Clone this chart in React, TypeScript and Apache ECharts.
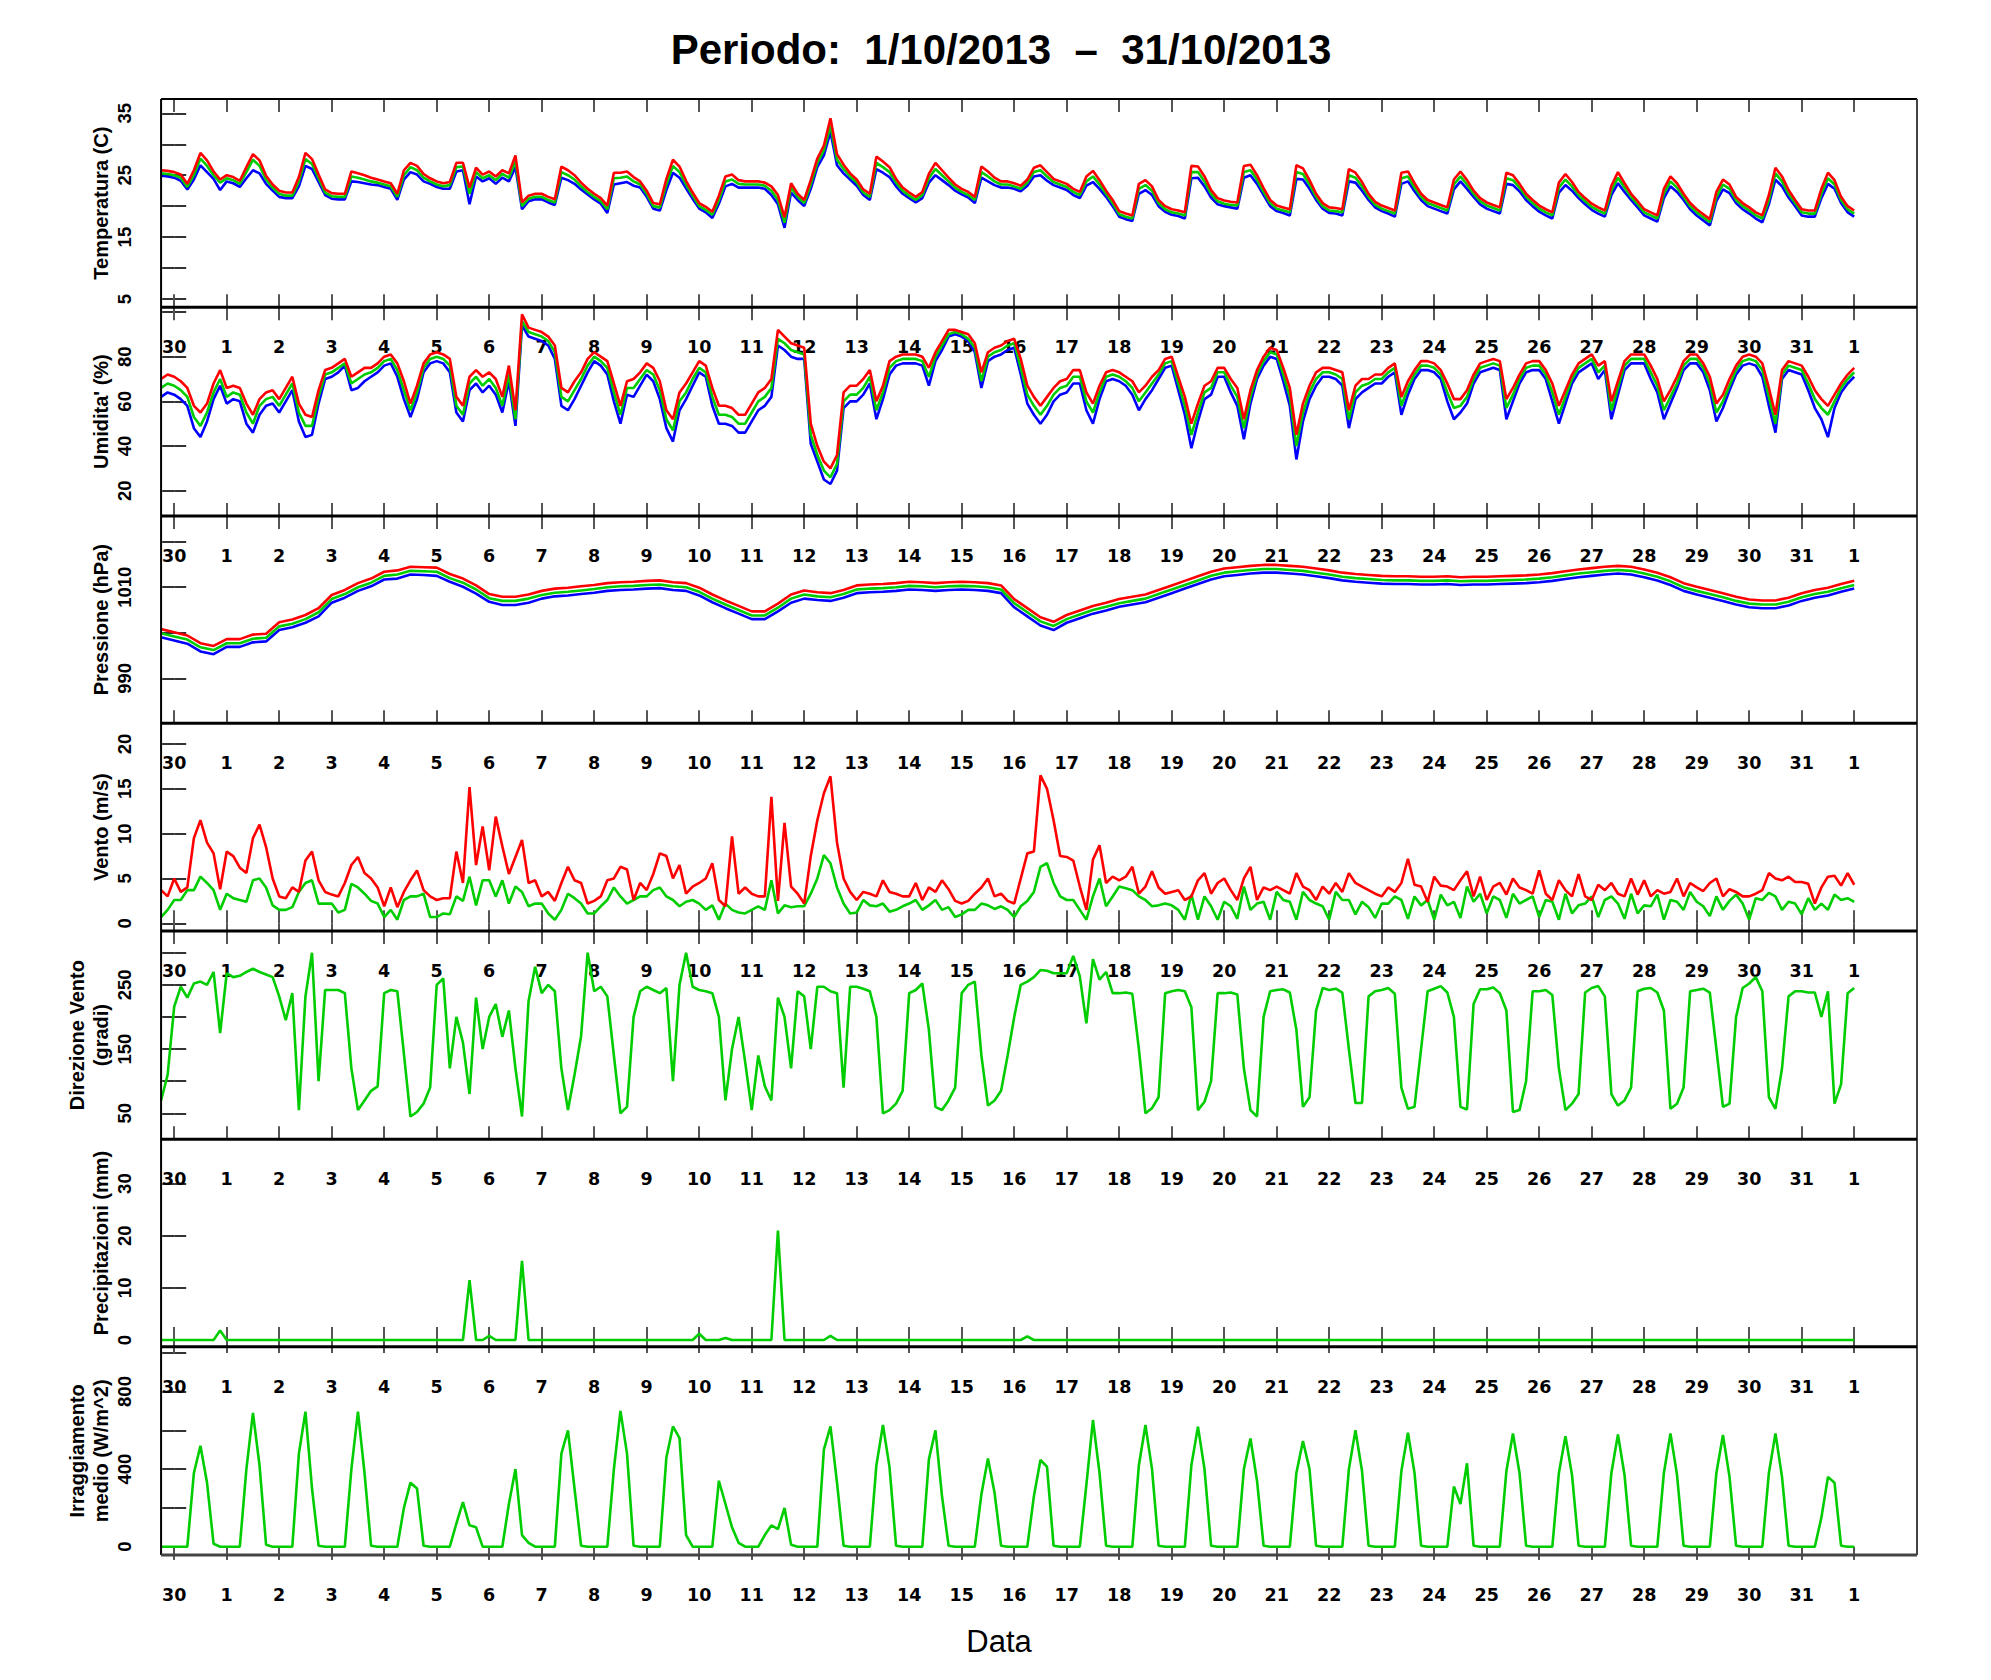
import React, { useEffect, useRef } from 'react';
import * as echarts from 'echarts';

// ---------- time axis (hours from 30/09 00:00), tick labels ----------
const hours3 = Array.from({ length: 259 }, (_, i) => -6 + 3 * i);
const hours6 = Array.from({ length: 130 }, (_, i) => -6 + 6 * i);
const tickHours = Array.from({ length: 33 }, (_, i) => 24 * i);
const dayLabels = ['30', '1', '2', '3', '4', '5', '6', '7', '8', '9', '10', '11', '12', '13', '14', '15', '16',
  '17', '18', '19', '20', '21', '22', '23', '24', '25', '26', '27', '28', '29', '30', '31', '1'];

const tempLabels = [5, 15, 25, 35];
const humLabels = [20, 40, 60, 80];
const presLabels = [990, 1010];
const windLabels = [0, 5, 10, 15, 20];
const dirLabels = [50, 150, 250];
const rainLabels = [0, 10, 20, 30];
const irrLabels = [0, 400, 800];

// ---------- temperature (C), 3-hourly ----------
const tempBlue = [
  24.9, 24.8,
  24.6, 24.1, 22.7, 24.3, 26.6, 25.5, 24.4, 22.6,
  24.0, 23.7, 23.1, 24.5, 25.8, 25.3, 23.6, 22.5,
  21.5, 21.3, 21.3, 23.2, 26.5, 26.0, 23.9, 21.8,
  21.2, 21.1, 21.1, 24.0, 23.9, 23.7, 23.5, 23.4,
  23.1, 22.8, 21.0, 24.3, 25.5, 25.1, 24.0, 23.6,
  23.1, 22.8, 22.8, 25.6, 25.8, 20.3, 24.8, 24.0,
  24.5, 23.6, 24.6, 24.0, 26.3, 19.5, 20.8, 21.1,
  21.1, 20.6, 20.2, 24.6, 24.2, 23.6, 22.7, 21.9,
  21.1, 20.4, 18.9, 23.5, 23.7, 23.9, 23.3, 23.0,
  21.5, 19.6, 19.3, 22.6, 25.4, 24.6, 22.9, 21.2,
  19.6, 19.0, 18.1, 20.4, 23.2, 23.6, 23.0, 23.0,
  23.0, 23.0, 22.8, 21.8, 20.3, 16.5, 22.2, 21.0,
  20.0, 22.8, 26.3, 28.2, 32.0, 26.6, 25.3, 24.3,
  23.3, 21.8, 21.0, 26.0, 25.4, 24.7, 23.2, 22.0,
  21.3, 20.6, 21.3, 23.8, 25.0, 24.2, 23.4, 22.5,
  21.9, 21.4, 20.5, 24.6, 24.0, 23.4, 23.0, 23.0,
  22.8, 22.4, 23.3, 24.8, 25.0, 24.1, 23.4, 23.0,
  22.6, 21.8, 21.3, 23.3, 23.9, 22.8, 21.5, 20.0,
  18.3, 17.9, 17.6, 22.0, 22.6, 21.8, 20.0, 19.1,
  18.6, 18.4, 18.0, 24.5, 24.6, 23.2, 21.4, 20.3,
  20.0, 19.8, 19.6, 24.6, 25.0, 23.6, 21.8, 20.0,
  19.2, 18.9, 18.5, 24.4, 24.3, 22.8, 21.0, 19.6,
  18.9, 18.8, 18.5, 24.0, 23.8, 22.5, 21.0, 19.8,
  19.2, 18.8, 18.3, 23.6, 24.0, 22.4, 21.0, 20.0,
  19.6, 19.2, 18.8, 22.7, 24.0, 22.8, 21.5, 20.3,
  19.6, 19.2, 18.8, 23.6, 23.4, 22.4, 21.0, 20.0,
  19.1, 18.5, 18.0, 22.2, 23.4, 22.5, 21.3, 20.3,
  19.4, 18.8, 18.3, 21.8, 23.7, 22.3, 21.0, 19.8,
  18.5, 18.0, 17.5, 21.3, 23.2, 22.3, 21.0, 19.5,
  18.5, 17.7, 16.9, 20.8, 22.7, 22.1, 20.5, 19.5,
  18.8, 18.0, 17.4, 20.3, 24.3, 23.2, 21.4, 20.0,
  18.5, 18.3, 18.3, 21.3, 23.6, 22.8, 20.5, 19.0,
  18.3,
];
const tempGreen = [
  25.3, 25.2,
  25.0, 24.6, 23.1, 25.0, 27.7, 26.5, 25.0, 23.8,
  24.5, 24.2, 23.6, 25.5, 27.5, 26.5, 24.3, 23.0,
  22.0, 21.7, 21.7, 24.0, 27.6, 26.8, 24.5, 22.2,
  21.6, 21.5, 21.5, 24.8, 24.6, 24.3, 24.0, 23.8,
  23.5, 23.2, 21.5, 25.0, 26.3, 25.8, 24.6, 24.0,
  23.5, 23.2, 23.4, 26.3, 26.4, 22.0, 25.5, 24.5,
  25.0, 24.2, 25.2, 24.6, 27.2, 20.0, 21.2, 21.5,
  21.5, 21.0, 20.6, 25.5, 25.0, 24.3, 23.2, 22.3,
  21.5, 20.8, 19.5, 24.5, 24.6, 24.8, 24.0, 23.5,
  22.0, 20.0, 19.8, 23.5, 26.5, 25.5, 23.5, 21.7,
  20.0, 19.4, 18.6, 21.0, 24.0, 24.3, 23.6, 23.5,
  23.5, 23.5, 23.3, 22.5, 21.0, 17.3, 23.0, 21.5,
  20.5, 23.5, 27.0, 29.0, 33.0, 27.5, 26.0, 24.8,
  23.8, 22.2, 21.5, 27.0, 26.3, 25.5, 23.8, 22.5,
  21.7, 21.0, 21.8, 24.5, 26.0, 25.0, 24.0, 23.0,
  22.3, 21.8, 21.0, 25.5, 24.8, 24.0, 23.5, 23.5,
  23.2, 22.8, 23.8, 25.5, 25.8, 24.8, 23.9, 23.5,
  23.1, 22.3, 21.8, 24.0, 24.8, 23.5, 22.0, 20.5,
  18.7, 18.3, 18.0, 22.8, 23.4, 22.5, 20.5, 19.5,
  19.0, 18.8, 18.5, 25.5, 25.5, 24.0, 22.0, 20.8,
  20.4, 20.2, 20.1, 25.5, 25.8, 24.3, 22.3, 20.5,
  19.6, 19.3, 19.0, 25.5, 25.2, 23.5, 21.5, 20.0,
  19.3, 19.2, 19.0, 25.0, 24.6, 23.2, 21.5, 20.2,
  19.6, 19.2, 18.8, 24.5, 24.8, 23.0, 21.5, 20.5,
  20.1, 19.7, 19.3, 23.5, 24.8, 23.5, 22.0, 20.8,
  20.1, 19.7, 19.3, 24.5, 24.2, 23.0, 21.5, 20.5,
  19.6, 19.0, 18.5, 23.0, 24.3, 23.2, 21.8, 20.8,
  19.9, 19.3, 18.8, 22.5, 24.6, 23.0, 21.5, 20.3,
  19.0, 18.5, 18.0, 22.0, 24.0, 23.0, 21.5, 20.0,
  19.0, 18.2, 17.4, 21.5, 23.5, 22.8, 21.0, 20.0,
  19.3, 18.5, 18.0, 21.0, 25.3, 24.0, 22.0, 20.5,
  19.0, 18.8, 18.8, 22.0, 24.5, 23.5, 21.0, 19.5,
  18.8,
];
const tempRed = [
  25.8, 25.7,
  25.5, 25.1, 23.6, 25.8, 28.6, 27.4, 25.6, 24.3,
  25.0, 24.7, 24.1, 26.3, 28.4, 27.4, 24.9, 23.5,
  22.5, 22.2, 22.2, 24.7, 28.6, 27.6, 25.1, 22.7,
  22.1, 22.0, 22.0, 25.6, 25.3, 25.0, 24.6, 24.3,
  24.0, 23.7, 22.0, 25.8, 27.0, 26.5, 25.2, 24.5,
  24.0, 23.7, 23.9, 27.0, 27.0, 23.0, 26.2, 25.1,
  25.6, 24.8, 25.8, 25.3, 28.2, 20.6, 21.7, 22.0,
  22.0, 21.5, 21.1, 26.4, 25.8, 25.0, 23.8, 22.8,
  22.0, 21.3, 20.1, 25.4, 25.4, 25.6, 24.7, 24.0,
  22.5, 20.5, 20.3, 24.4, 27.5, 26.4, 24.1, 22.2,
  20.5, 19.9, 19.1, 21.7, 24.8, 25.1, 24.2, 24.0,
  24.0, 24.0, 23.8, 23.2, 21.8, 18.2, 23.7, 22.0,
  21.0, 24.2, 27.7, 29.8, 34.2, 28.4, 26.7, 25.3,
  24.3, 22.7, 22.0, 28.0, 27.2, 26.3, 24.4, 23.0,
  22.2, 21.5, 22.3, 25.2, 27.0, 25.8, 24.6, 23.5,
  22.8, 22.3, 21.5, 26.4, 25.6, 24.6, 24.0, 24.0,
  23.7, 23.3, 24.3, 26.2, 26.6, 25.5, 24.4, 24.0,
  23.6, 22.8, 22.3, 24.8, 25.7, 24.2, 22.5, 21.0,
  19.2, 18.8, 18.5, 23.6, 24.2, 23.2, 21.0, 20.0,
  19.5, 19.3, 19.0, 26.5, 26.4, 24.8, 22.6, 21.3,
  20.9, 20.7, 20.6, 26.5, 26.7, 25.0, 22.9, 21.0,
  20.1, 19.8, 19.5, 26.6, 26.1, 24.2, 22.0, 20.5,
  19.8, 19.7, 19.5, 26.0, 25.4, 23.9, 22.0, 20.7,
  20.1, 19.7, 19.3, 25.4, 25.6, 23.7, 22.0, 21.0,
  20.6, 20.2, 19.8, 24.3, 25.6, 24.2, 22.5, 21.3,
  20.6, 20.2, 19.8, 25.4, 25.0, 23.6, 22.0, 21.0,
  20.1, 19.5, 19.0, 23.8, 25.2, 23.9, 22.3, 21.3,
  20.4, 19.8, 19.3, 23.3, 25.5, 23.7, 22.0, 20.8,
  19.5, 19.0, 18.5, 22.8, 24.8, 23.7, 22.0, 20.5,
  19.5, 18.7, 17.9, 22.3, 24.3, 23.5, 21.5, 20.5,
  19.8, 19.0, 18.5, 21.8, 26.2, 24.8, 22.6, 21.0,
  19.5, 19.3, 19.3, 22.8, 25.4, 24.2, 21.5, 20.0,
  19.3,
];

// ---------- relative humidity (%), 3-hourly ----------
const humBlue = [
  62, 64,
  63, 61, 58, 48, 44, 51, 61, 67,
  59, 61, 60, 50, 46, 54, 58, 59,
  55, 60, 65, 51, 44, 45, 59, 70,
  71, 73, 76, 65, 66, 69, 71, 73,
  76, 77, 71, 61, 53, 61, 73, 77,
  78, 77, 73, 55, 51, 65, 68, 64,
  67, 63, 55, 69, 49, 94, 89, 88,
  87, 85, 79, 58, 56, 61, 67, 73,
  78, 76, 72, 60, 50, 63, 62, 67,
  72, 69, 61, 48, 42, 56, 61, 67,
  73, 71, 58, 50, 50, 49, 46, 46,
  51, 56, 58, 62, 85, 83, 80, 79,
  79, 41, 33, 25, 23, 29, 57, 60,
  60, 63, 68, 52, 61, 72, 76, 77,
  77, 77, 76, 67, 78, 83, 89, 90,
  89, 87, 82, 66, 78, 80, 81, 83,
  84, 72, 59, 54, 50, 54, 60, 63,
  64, 68, 68, 56, 50, 61, 69, 70,
  69, 67, 63, 56, 61, 65, 70, 75,
  76, 65, 54, 39, 51, 61, 63, 71,
  71, 64, 58, 43, 59, 70, 76, 80,
  79, 69, 58, 34, 51, 61, 67, 71,
  71, 70, 67, 48, 61, 64, 66, 68,
  68, 71, 73, 54, 63, 70, 74, 74,
  73, 70, 60, 52, 55, 59, 68, 73,
  74, 75, 74, 52, 60, 68, 73, 74,
  74, 70, 60, 50, 59, 68, 73, 75,
  77, 70, 74, 52, 63, 74, 77, 77,
  77, 70, 64, 52, 59, 66, 74, 77,
  77, 73, 65, 51, 57, 65, 72, 76,
  77, 76, 71, 58, 46, 70, 74, 73,
  72, 65, 57, 52, 44, 57, 64, 68,
  71,
];
const humGreen = [
  66, 68,
  67, 65, 62, 53, 49, 55, 64, 70,
  62, 64, 63, 55, 50, 58, 61, 62,
  58, 63, 68, 55, 49, 49, 62, 72,
  73, 75, 77, 68, 70, 72, 73, 75,
  78, 79, 74, 65, 56, 64, 75, 79,
  80, 79, 76, 58, 54, 68, 71, 67,
  70, 66, 58, 72, 52, 96, 91, 90,
  89, 87, 82, 62, 60, 65, 70, 76,
  80, 78, 75, 64, 54, 66, 66, 70,
  74, 72, 65, 52, 47, 60, 64, 70,
  75, 73, 62, 54, 54, 53, 50, 50,
  55, 60, 62, 66, 88, 86, 83, 82,
  81, 45, 36, 29, 26, 32, 60, 63,
  63, 66, 71, 56, 64, 75, 78, 79,
  79, 79, 78, 71, 80, 85, 90, 91,
  90, 88, 84, 69, 80, 82, 83, 85,
  86, 75, 63, 58, 54, 58, 63, 66,
  67, 71, 71, 60, 55, 64, 71, 72,
  71, 69, 66, 60, 64, 68, 72, 77,
  78, 68, 58, 45, 55, 64, 66, 73,
  73, 67, 62, 48, 62, 72, 78, 82,
  81, 72, 62, 40, 55, 64, 70, 73,
  73, 72, 70, 52, 64, 67, 68, 70,
  70, 73, 75, 58, 66, 72, 76, 76,
  75, 72, 64, 57, 58, 62, 70, 75,
  76, 77, 76, 57, 63, 70, 75, 76,
  76, 72, 64, 54, 62, 70, 75, 77,
  79, 73, 76, 56, 66, 76, 79, 79,
  79, 73, 67, 56, 62, 68, 76, 79,
  79, 75, 68, 55, 60, 67, 74, 78,
  79, 78, 74, 62, 50, 72, 76, 75,
  74, 68, 61, 57, 54, 60, 66, 70,
  73,
];
const humRed = [
  70, 72,
  71, 69, 66, 58, 55, 59, 68, 74,
  66, 67, 66, 59, 54, 61, 64, 65,
  61, 66, 71, 59, 54, 53, 65, 74,
  75, 77, 79, 71, 73, 75, 75, 77,
  80, 81, 77, 69, 59, 67, 77, 81,
  82, 81, 79, 62, 58, 71, 74, 71,
  73, 70, 62, 76, 56, 99, 93, 92,
  91, 89, 85, 66, 64, 69, 73, 79,
  82, 80, 78, 68, 58, 69, 70, 73,
  77, 75, 69, 56, 52, 64, 68, 73,
  78, 76, 66, 58, 58, 57, 54, 54,
  59, 64, 66, 70, 92, 89, 86, 85,
  84, 50, 40, 33, 30, 36, 64, 67,
  67, 70, 74, 60, 67, 78, 80, 81,
  81, 81, 80, 75, 82, 87, 92, 92,
  91, 90, 86, 73, 82, 84, 85, 87,
  88, 79, 67, 62, 58, 62, 66, 69,
  70, 74, 74, 64, 59, 67, 73, 74,
  73, 71, 69, 64, 67, 71, 74, 79,
  80, 71, 62, 50, 59, 67, 69, 75,
  75, 70, 66, 52, 65, 74, 80, 84,
  83, 75, 66, 45, 59, 67, 73, 75,
  75, 74, 73, 56, 67, 70, 70, 72,
  72, 75, 77, 62, 69, 74, 78, 78,
  77, 74, 68, 61, 61, 65, 72, 77,
  78, 79, 78, 61, 66, 72, 77, 78,
  78, 74, 68, 58, 65, 72, 77, 79,
  81, 76, 78, 60, 69, 78, 81, 81,
  81, 76, 70, 60, 65, 71, 78, 81,
  81, 77, 71, 59, 63, 70, 76, 80,
  81, 80, 77, 66, 54, 74, 78, 77,
  76, 71, 65, 61, 58, 63, 68, 72,
  75,
];

// ---------- pressure (hPa), 6-hourly ----------
const presBlue = [
  999.0,
  998.3, 997.6, 995.9, 995.3,
  996.9, 996.9, 997.9, 998.1,
  1000.6, 1001.2, 1002.2, 1003.6,
  1006.6, 1007.7, 1009.2, 1010.2,
  1011.7, 1011.9, 1012.8, 1012.7,
  1012.5, 1011.2, 1010.1, 1008.6,
  1006.8, 1006.1, 1006.1, 1006.6,
  1007.5, 1008.0, 1008.2, 1008.5,
  1008.8, 1009.2, 1009.4, 1009.5,
  1009.7, 1009.8, 1009.4, 1009.2,
  1008.2, 1006.7, 1005.4, 1004.2,
  1003.0, 1003.0, 1004.7, 1006.6,
  1007.5, 1007.2, 1007.0, 1007.7,
  1008.7, 1008.9, 1009.0, 1009.2,
  1009.5, 1009.4, 1009.2, 1009.4,
  1009.5, 1009.4, 1009.2, 1008.7,
  1005.6, 1003.6, 1001.6, 1000.6,
  1002.2, 1003.2, 1004.2, 1004.9,
  1005.7, 1006.2, 1006.7, 1007.7,
  1008.7, 1009.7, 1010.7, 1011.7,
  1012.4, 1012.7, 1013.0, 1013.2,
  1013.2, 1013.0, 1012.8, 1012.4,
  1012.0, 1011.5, 1011.2, 1011.0,
  1010.8, 1010.7, 1010.7, 1010.6,
  1010.6, 1010.7, 1010.5, 1010.6,
  1010.6, 1010.7, 1010.8, 1010.9,
  1011.1, 1011.4, 1011.8, 1012.2,
  1012.5, 1012.8, 1013.0, 1012.8,
  1012.2, 1011.5, 1010.5, 1009.2,
  1008.4, 1007.7, 1007.0, 1006.2,
  1005.6, 1005.4, 1005.4, 1006.0,
  1007.0, 1007.7, 1008.2, 1009.0,
  1009.7,
];
const presGreen = [
  999.9,
  999.2, 998.5, 996.8, 996.2,
  997.7, 997.7, 998.7, 998.9,
  1001.4, 1002.0, 1003.0, 1004.5,
  1007.4, 1008.5, 1010.0, 1011.0,
  1012.5, 1012.8, 1013.6, 1013.5,
  1013.4, 1012.0, 1011.0, 1009.5,
  1007.6, 1007.0, 1007.0, 1007.5,
  1008.3, 1008.8, 1009.0, 1009.3,
  1009.6, 1010.0, 1010.2, 1010.3,
  1010.5, 1010.6, 1010.2, 1010.0,
  1009.0, 1007.5, 1006.2, 1005.0,
  1003.8, 1003.8, 1005.5, 1007.5,
  1008.4, 1008.0, 1007.8, 1008.5,
  1009.5, 1009.7, 1009.8, 1010.0,
  1010.3, 1010.2, 1010.0, 1010.2,
  1010.3, 1010.2, 1010.0, 1009.5,
  1006.5, 1004.5, 1002.5, 1001.5,
  1003.0, 1004.0, 1005.0, 1005.7,
  1006.5, 1007.0, 1007.5, 1008.5,
  1009.5, 1010.5, 1011.5, 1012.5,
  1013.2, 1013.5, 1013.8, 1014.0,
  1014.0, 1013.8, 1013.6, 1013.2,
  1012.8, 1012.3, 1012.0, 1011.8,
  1011.6, 1011.5, 1011.5, 1011.4,
  1011.4, 1011.5, 1011.3, 1011.4,
  1011.4, 1011.5, 1011.6, 1011.7,
  1011.9, 1012.2, 1012.6, 1013.0,
  1013.3, 1013.6, 1013.8, 1013.6,
  1013.0, 1012.3, 1011.3, 1010.0,
  1009.2, 1008.5, 1007.8, 1007.0,
  1006.4, 1006.2, 1006.2, 1006.8,
  1007.8, 1008.5, 1009.0, 1009.8,
  1010.5,
];
const presRed = [
  1000.8,
  1000.1, 999.4, 997.7, 997.1,
  998.6, 998.6, 999.6, 999.8,
  1002.3, 1002.9, 1003.9, 1005.4,
  1008.3, 1009.4, 1010.9, 1011.9,
  1013.4, 1013.7, 1014.5, 1014.4,
  1014.3, 1012.9, 1011.9, 1010.4,
  1008.5, 1007.9, 1007.9, 1008.4,
  1009.2, 1009.7, 1009.9, 1010.2,
  1010.5, 1010.9, 1011.1, 1011.2,
  1011.4, 1011.5, 1011.1, 1010.9,
  1009.9, 1008.4, 1007.1, 1005.9,
  1004.7, 1004.7, 1006.4, 1008.4,
  1009.3, 1008.9, 1008.7, 1009.4,
  1010.4, 1010.6, 1010.7, 1010.9,
  1011.2, 1011.1, 1010.9, 1011.1,
  1011.2, 1011.1, 1010.9, 1010.4,
  1007.4, 1005.4, 1003.4, 1002.4,
  1003.9, 1004.9, 1005.9, 1006.6,
  1007.4, 1007.9, 1008.4, 1009.4,
  1010.4, 1011.4, 1012.4, 1013.4,
  1014.1, 1014.4, 1014.7, 1014.9,
  1014.9, 1014.7, 1014.5, 1014.1,
  1013.7, 1013.2, 1012.9, 1012.7,
  1012.5, 1012.4, 1012.4, 1012.3,
  1012.3, 1012.4, 1012.2, 1012.3,
  1012.3, 1012.4, 1012.5, 1012.6,
  1012.8, 1013.1, 1013.5, 1013.9,
  1014.2, 1014.5, 1014.7, 1014.5,
  1013.9, 1013.2, 1012.2, 1010.9,
  1010.1, 1009.4, 1008.7, 1007.9,
  1007.3, 1007.1, 1007.1, 1007.7,
  1008.7, 1009.4, 1009.9, 1010.7,
  1011.4,
];

// ---------- wind speed (m/s), 3-hourly ----------
const windMean = [
  0.7, 1.5,
  2.6, 2.6, 3.7, 3.7, 5.2, 4.5, 3.7, 1.5,
  3.3, 2.8, 2.6, 2.4, 4.8, 5.0, 4.0, 2.0,
  1.5, 1.5, 1.8, 3.5, 4.5, 4.8, 2.2, 2.2,
  2.2, 1.2, 1.5, 4.4, 4.0, 3.3, 2.5, 2.2,
  0.7, 1.5, 0.4, 2.6, 3.0, 3.0, 3.3, 0.7,
  0.7, 1.1, 1.0, 3.0, 2.5, 5.2, 2.0, 4.8,
  4.8, 3.0, 4.8, 2.2, 4.1, 3.5, 1.9, 2.2,
  2.2, 1.1, 0.4, 1.5, 3.3, 2.8, 2.2, 1.1,
  1.1, 1.9, 2.6, 4.0, 3.0, 2.2, 2.6, 3.0,
  3.0, 3.7, 4.0, 3.0, 2.6, 1.9, 2.4, 2.6,
  2.2, 1.5, 2.0, 0.4, 2.2, 1.5, 1.2, 1.1,
  1.5, 1.9, 1.5, 4.8, 1.1, 2.0, 1.8, 1.9,
  1.9, 3.3, 5.0, 7.6, 6.7, 4.0, 2.2, 1.1,
  1.2, 2.6, 2.0, 1.9, 2.2, 1.3, 1.5, 1.9,
  2.2, 2.6, 1.5, 2.0, 2.6, 1.5, 1.8, 0.7,
  1.0, 1.5, 1.5, 2.2, 2.0, 1.6, 1.9, 1.5,
  0.7, 1.9, 2.5, 3.5, 6.3, 6.7, 4.5, 3.0,
  2.6, 2.6, 1.5, 0.4, 3.0, 5.0, 1.9, 3.0,
  4.1, 3.9, 3.7, 3.0, 2.6, 1.9, 2.0, 2.2,
  2.0, 1.5, 0.4, 3.2, 0.4, 3.0, 1.9, 0.4,
  2.4, 1.9, 0.5, 4.1, 1.5, 2.2, 2.4, 0.4,
  3.5, 2.6, 2.4, 0.4, 3.5, 2.6, 2.2, 1.9,
  0.4, 3.5, 2.6, 2.6, 1.0, 2.4, 1.8, 0.6,
  2.2, 2.2, 3.0, 2.6, 0.5, 3.0, 2.0, 2.6,
  0.4, 3.2, 2.0, 2.4, 0.6, 4.1, 2.4, 3.3,
  1.1, 3.0, 2.6, 0.6, 3.3, 2.2, 2.6, 3.0,
  0.7, 2.6, 2.4, 0.4, 3.3, 1.1, 2.0, 2.2,
  3.0, 0.7, 2.6, 3.0, 2.2, 0.5, 3.3, 1.1,
  2.0, 1.9, 3.2, 0.4, 2.6, 2.4, 1.5, 3.5,
  2.4, 1.9, 0.8, 3.0, 1.5, 2.5, 3.2, 2.2,
  0.4, 2.8, 2.6, 3.4, 3.0, 1.5, 2.4, 2.2,
  1.0, 2.8, 1.5, 2.2, 1.5, 3.2, 2.6, 2.8,
  2.4,
];
const windGust = [
  3.7, 3.0,
  5.0, 3.5, 4.0, 9.5, 11.5, 9.0, 7.8, 3.8,
  8.0, 7.5, 6.2, 5.6, 9.5, 11.0, 8.5, 5.0,
  3.0, 2.8, 4.0, 3.5, 7.0, 8.0, 4.8, 3.5,
  3.2, 3.0, 4.5, 6.5, 7.4, 5.6, 5.0, 4.0,
  1.9, 4.0, 1.8, 3.5, 4.8, 5.9, 3.7, 3.0,
  2.6, 2.8, 2.8, 8.0, 4.5, 15.2, 6.5, 10.8,
  5.9, 11.9, 8.6, 5.5, 7.4, 9.3, 4.5, 4.8,
  3.0, 3.5, 2.5, 4.5, 6.3, 4.8, 4.5, 2.2,
  2.5, 3.0, 4.8, 5.0, 6.3, 6.0, 2.6, 4.5,
  3.7, 5.5, 7.8, 7.5, 5.0, 6.5, 3.3, 4.1,
  4.5, 5.0, 6.7, 2.6, 1.9, 9.7, 3.3, 4.0,
  3.3, 3.0, 3.0, 14.1, 2.5, 11.2, 4.1, 3.3,
  2.2, 7.5, 11.5, 14.5, 16.4, 9.0, 5.0, 3.5,
  2.6, 3.5, 3.3, 3.0, 4.8, 3.5, 3.3, 3.0,
  3.0, 4.5, 2.6, 4.0, 3.5, 4.8, 3.8, 2.5,
  2.2, 2.5, 3.3, 4.0, 5.0, 3.0, 3.3, 2.5,
  2.2, 5.0, 7.8, 8.0, 16.5, 15.0, 11.5, 7.5,
  7.4, 7.0, 4.1, 1.5, 7.1, 8.7, 4.5, 5.2,
  4.8, 5.2, 6.3, 3.3, 4.1, 5.8, 4.0, 3.3,
  3.5, 3.7, 2.6, 3.0, 4.8, 5.6, 3.3, 4.5,
  5.0, 3.7, 2.6, 5.0, 6.3, 2.6, 4.0, 3.7,
  4.1, 3.7, 3.3, 5.6, 4.1, 3.7, 2.6, 4.1,
  3.3, 4.5, 3.5, 5.6, 4.5, 4.1, 3.7, 3.3,
  3.0, 4.0, 3.5, 4.5, 7.2, 4.3, 4.1, 2.4,
  5.2, 4.2, 4.1, 3.7, 4.8, 5.8, 3.0, 5.2,
  2.6, 4.1, 4.5, 3.2, 5.0, 4.0, 3.7, 3.3,
  5.9, 3.3, 2.6, 4.8, 3.7, 3.0, 5.5, 3.0,
  2.6, 4.3, 3.7, 4.5, 3.3, 3.0, 5.0, 3.2,
  4.8, 3.0, 3.7, 3.3, 3.5, 5.0, 3.0, 4.5,
  4.0, 3.6, 4.5, 5.0, 3.0, 3.8, 3.5, 3.0,
  3.0, 3.3, 3.7, 5.6, 5.0, 4.8, 5.2, 4.6,
  4.6, 4.4, 2.2, 4.0, 5.2, 5.3, 4.2, 5.6,
  4.3,
];

// ---------- wind direction (degrees), 3-hourly ----------
const windDir = [
  70, 110,
  216, 247, 230, 252, 255, 250, 270, 175,
  268, 262, 264, 270, 275, 270, 266, 262,
  232, 195, 237, 55, 232, 300, 100, 242,
  242, 242, 237, 120, 55, 70, 85, 92,
  237, 242, 240, 143, 45, 52, 65, 90,
  250, 260, 120, 200, 160, 80, 230, 150,
  200, 220, 169, 210, 120, 45, 225, 278,
  237, 250, 240, 120, 55, 110, 170, 300,
  240, 247, 232, 140, 50, 60, 200, 240,
  247, 242, 237, 245, 100, 250, 300, 247,
  242, 240, 237, 200, 70, 150, 200, 130,
  55, 140, 92, 70, 230, 200, 120, 240,
  232, 150, 247, 247, 240, 237, 90, 247,
  247, 244, 240, 200, 50, 55, 65, 85,
  237, 242, 252, 180, 60, 55, 70, 90,
  237, 250, 255, 140, 62, 70, 85, 140,
  200, 250, 255, 262, 273, 272, 268, 268,
  268, 295, 263, 190, 290, 258, 270, 237,
  237, 238, 236, 150, 50, 58, 75, 237,
  240, 242, 240, 215, 55, 68, 100, 237,
  237, 238, 235, 120, 55, 45, 200, 240,
  242, 243, 238, 180, 60, 75, 210, 245,
  242, 244, 238, 150, 66, 66, 232, 240,
  242, 245, 236, 90, 57, 60, 150, 240,
  244, 248, 238, 200, 60, 56, 220, 243,
  243, 246, 237, 210, 52, 55, 100, 240,
  240, 242, 234, 120, 55, 65, 80, 238,
  245, 248, 232, 80, 62, 70, 90, 240,
  244, 245, 238, 210, 57, 65, 90, 240,
  242, 244, 238, 150, 60, 65, 200, 245,
  252, 262, 240, 75, 57, 120, 232, 240,
  240, 238, 238, 200, 240, 65, 95, 237,
  245,
];

// ---------- precipitation (mm), 3-hourly ----------
const rain = [
  0, 0,
  0, 0, 0, 0, 0, 0, 0, 1.8,
  0, 0, 0, 0, 0, 0, 0, 0,
  0, 0, 0, 0, 0, 0, 0, 0,
  0, 0, 0, 0, 0, 0, 0, 0,
  0, 0, 0, 0, 0, 0, 0, 0,
  0, 0, 0, 0, 0, 11.5, 0, 0,
  0.8, 0, 0, 0, 0, 15.2, 0, 0,
  0, 0, 0, 0, 0, 0, 0, 0,
  0, 0, 0, 0, 0, 0, 0, 0,
  0, 0, 0, 0, 0, 0, 0, 0,
  1.2, 0, 0, 0, 0.4, 0, 0, 0,
  0, 0, 0, 0, 21, 0, 0, 0,
  0, 0, 0, 0, 0.8, 0, 0, 0,
  0, 0, 0, 0, 0, 0, 0, 0,
  0, 0, 0, 0, 0, 0, 0, 0,
  0, 0, 0, 0, 0, 0, 0, 0,
  0, 0, 0.7, 0, 0, 0, 0, 0,
  0, 0, 0, 0, 0, 0, 0, 0,
  0, 0, 0, 0, 0, 0, 0, 0,
  0, 0, 0, 0, 0, 0, 0, 0,
  0, 0, 0, 0, 0, 0, 0, 0,
  0, 0, 0, 0, 0, 0, 0, 0,
  0, 0, 0, 0, 0, 0, 0, 0,
  0, 0, 0, 0, 0, 0, 0, 0,
  0, 0, 0, 0, 0, 0, 0, 0,
  0, 0, 0, 0, 0, 0, 0, 0,
  0, 0, 0, 0, 0, 0, 0, 0,
  0, 0, 0, 0, 0, 0, 0, 0,
  0, 0, 0, 0, 0, 0, 0, 0,
  0, 0, 0, 0, 0, 0, 0, 0,
  0, 0, 0, 0, 0, 0, 0, 0,
  0, 0, 0, 0, 0, 0, 0, 0,
  0,
];

// ---------- mean irradiance (W/m^2), 3-hourly ----------
const irradiance = [
  0, 0,
  0, 0, 0, 380, 520, 330, 15, 0,
  0, 0, 0, 400, 690, 420, 10, 0,
  0, 0, 0, 480, 696, 300, 5, 0,
  0, 0, 0, 400, 696, 380, 5, 0,
  0, 0, 0, 200, 330, 300, 5, 0,
  0, 0, 0, 120, 230, 110, 100, 0,
  0, 0, 0, 220, 400, 60, 20, 0,
  0, 0, 0, 480, 600, 300, 5, 0,
  0, 0, 0, 400, 700, 480, 5, 0,
  0, 0, 0, 460, 620, 560, 60, 0,
  0, 0, 0, 340, 220, 100, 20, 0,
  0, 0, 60, 110, 90, 200, 10, 0,
  0, 0, 0, 500, 620, 330, 5, 0,
  0, 0, 0, 420, 627, 410, 5, 0,
  0, 0, 0, 450, 600, 260, 5, 0,
  0, 0, 0, 270, 455, 280, 5, 0,
  0, 0, 0, 260, 447, 412, 5, 0,
  0, 0, 0, 320, 653, 380, 5, 0,
  0, 0, 0, 420, 627, 400, 5, 0,
  0, 0, 0, 420, 619, 400, 5, 0,
  0, 0, 0, 400, 558, 340, 5, 0,
  0, 0, 0, 380, 545, 400, 5, 0,
  0, 0, 0, 400, 600, 390, 5, 0,
  0, 0, 0, 390, 588, 380, 5, 0,
  0, 0, 0, 310, 220, 430, 5, 0,
  0, 0, 0, 390, 584, 380, 5, 0,
  0, 0, 0, 380, 570, 370, 5, 0,
  0, 0, 0, 380, 579, 370, 5, 0,
  0, 0, 0, 380, 584, 370, 5, 0,
  0, 0, 0, 380, 576, 360, 5, 0,
  0, 0, 0, 380, 584, 360, 5, 0,
  0, 0, 0, 150, 360, 330, 5, 0,
  0,
];

// ---------- colours / fonts ----------
const BLUE = '#0000ff';
const GREEN = '#00cd00';
const RED = '#ff0000';
const SANS = "'Liberation Sans', Arial, sans-serif";
const WIDE = "'DejaVu Sans', Verdana, sans-serif";

// ---------- layout (pixels) ----------
const W = 1991;
const H = 1680;
const PX_PER_DAY = 52.5;
const X0 = 174.2; // pixel of hour 0 (tick "30")
const X_MIN = -6; // hour at left box edge
const BOX_L = X0 + (X_MIN / 24) * PX_PER_DAY;
const BOX_R = 1917;
const X_MAX = ((BOX_R - X0) / PX_PER_DAY) * 24; // hour at right box edge

type Line = { hours: number[]; values: number[]; color: string };
type Panel = {
  top: number; bottom: number; gTop: number; gBot: number;
  min: number; max: number; step: number; labels: number[];
  name: string; lines: Line[];
};

const panels: Panel[] = [
  { top: 99, bottom: 307.3, gTop: 113.3, gBot: 299.0, min: 5, max: 35, step: 5, labels: tempLabels,
    name: 'Temperatura (C)',
    lines: [{ hours: hours3, values: tempBlue, color: BLUE }, { hours: hours3, values: tempGreen, color: GREEN }, { hours: hours3, values: tempRed, color: RED }] },
  { top: 307.3, bottom: 516, gTop: 312.0, gBot: 490.7, min: 20, max: 100, step: 20, labels: humLabels,
    name: "Umidita' (%)",
    lines: [{ hours: hours3, values: humBlue, color: BLUE }, { hours: hours3, values: humGreen, color: GREEN }, { hours: hours3, values: humRed, color: RED }] },
  { top: 516, bottom: 723.3, gTop: 541.7, gBot: 678.3, min: 990, max: 1020, step: 10, labels: presLabels,
    name: 'Pressione (hPa)',
    lines: [{ hours: hours6, values: presBlue, color: BLUE }, { hours: hours6, values: presGreen, color: GREEN }, { hours: hours6, values: presRed, color: RED }] },
  { top: 723.3, bottom: 931, gTop: 744.0, gBot: 923.3, min: 0, max: 20, step: 5, labels: windLabels,
    name: 'Vento (m/s)',
    lines: [{ hours: hours3, values: windMean, color: GREEN }, { hours: hours3, values: windGust, color: RED }] },
  { top: 931, bottom: 1139.3, gTop: 952.7, gBot: 1113.3, min: 50, max: 300, step: 50, labels: dirLabels,
    name: 'Direzione Vento\n(gradi)',
    lines: [{ hours: hours3, values: windDir, color: GREEN }] },
  { top: 1139.3, bottom: 1346.7, gTop: 1183.6, gBot: 1340.0, min: 0, max: 30, step: 10, labels: rainLabels,
    name: 'Precipitazioni (mm)',
    lines: [{ hours: hours3, values: rain, color: GREEN }] },
  { top: 1346.7, bottom: 1555, gTop: 1352.7, gBot: 1546.7, min: 0, max: 1000, step: 200, labels: irrLabels,
    name: 'Irraggiamento\nmedio (W/m^2)',
    lines: [{ hours: hours3, values: irradiance, color: GREEN }] },
];

function buildOption() {
  const grid: any[] = [];
  const xAxis: any[] = [];
  const yAxis: any[] = [];
  const series: any[] = [];
  const last = panels.length - 1;
  const tickStyle = { color: '#555', width: 2 };

  panels.forEach((p, i) => {
    grid.push({
      left: BOX_L, width: BOX_R - BOX_L, top: p.gTop, height: p.gBot - p.gTop,
      containLabel: false, outerBoundsMode: 'none',
    });
    const isLast = i === last;
    // bottom axis (with day labels)
    xAxis.push({
      gridIndex: i, type: 'value', position: 'bottom', min: X_MIN, max: X_MAX,
      offset: p.bottom - p.gBot,
      axisLine: { show: false }, splitLine: { show: false },
      axisTick: { show: true, inside: !isLast, length: 13, lineStyle: tickStyle, customValues: tickHours },
      axisLabel: {
        show: true, margin: 31, color: '#000', fontFamily: WIDE, fontWeight: 'bold', fontSize: 17.5,
        customValues: tickHours, hideOverlap: false,
        formatter: (v: number) => dayLabels[Math.round(v / 24)] ?? '',
      },
      name: isLast ? 'Data' : '', nameLocation: 'middle', nameGap: 71, nameMoveOverlap: false,
      nameTextStyle: { fontFamily: SANS, fontSize: 31, fontWeight: 'normal', color: '#000', lineHeight: 31, padding: [0, 80, 0, 0] },
    });
    // top axis (ticks only)
    xAxis.push({
      gridIndex: i, type: 'value', position: 'top', min: X_MIN, max: X_MAX,
      offset: p.gTop - p.top,
      axisLine: { show: false }, splitLine: { show: false },
      axisTick: { show: true, inside: true, length: 13, lineStyle: tickStyle, customValues: tickHours },
      axisLabel: { show: false },
    });

    const gridCenter = (p.gTop + p.gBot) / 2;
    const panelCenter = (p.top + p.bottom) / 2;
    const d = panelCenter - gridCenter; // >0 means name must move down
    const pad = d > 0 ? [0, 2 * d, 0, 0] : [0, 0, 0, -2 * d];

    yAxis.push({
      gridIndex: i, type: 'value', position: 'left', min: p.min, max: p.max, interval: p.step,
      axisLine: { show: false }, splitLine: { show: false },
      axisTick: { show: true, length: 12, lineStyle: { color: '#333', width: 2 } },
      axisLabel: {
        show: true, rotate: 90, margin: 27, color: '#000', fontFamily: SANS, fontWeight: 'bold', fontSize: 18.5,
        showMinLabel: true, showMaxLabel: true, hideOverlap: false,
        formatter: (v: number) => (p.labels.includes(v) ? String(v) : ''),
      },
      name: p.name, nameLocation: 'middle', nameRotate: 90, nameGap: 48, nameMoveOverlap: false,
      nameTextStyle: { fontFamily: SANS, fontSize: 20, fontWeight: 'bold', color: '#000', lineHeight: 24, padding: pad },
    });
    yAxis.push({
      gridIndex: i, type: 'value', position: 'right', min: p.min, max: p.max, interval: p.step,
      axisLine: { show: false }, splitLine: { show: false },
      axisTick: { show: true, length: 12, lineStyle: { color: '#333', width: 2 } },
      axisLabel: { show: false },
    });

    p.lines.forEach((ln) => {
      series.push({
        type: 'line', xAxisIndex: 2 * i, yAxisIndex: 2 * i,
        data: ln.hours.map((h, k) => [h, ln.values[k]]),
        showSymbol: false, symbol: 'none', clip: false, silent: true,
        lineStyle: { color: ln.color, width: 2.6 }, itemStyle: { color: ln.color },
        emphasis: { disabled: true },
      });
    });
  });

  const seps = panels.slice(0, last).map((p) => p.bottom);
  const graphic: any[] = [
    { type: 'line', z: 100, shape: { x1: BOX_L, y1: panels[0].top, x2: BOX_R, y2: panels[0].top }, style: { stroke: '#000', lineWidth: 2 } },
    { type: 'line', z: 100, shape: { x1: BOX_L, y1: panels[0].top, x2: BOX_L, y2: panels[last].bottom }, style: { stroke: '#000', lineWidth: 2 } },
    { type: 'line', z: 100, shape: { x1: BOX_R, y1: panels[0].top, x2: BOX_R, y2: panels[last].bottom }, style: { stroke: '#444', lineWidth: 2 } },
    { type: 'line', z: 100, shape: { x1: BOX_L, y1: panels[last].bottom, x2: BOX_R, y2: panels[last].bottom }, style: { stroke: '#444', lineWidth: 3 } },
    ...seps.map((y) => ({ type: 'line', z: 100, shape: { x1: BOX_L, y1: y, x2: BOX_R, y2: y }, style: { stroke: '#000', lineWidth: 3 } })),
  ];

  return {
    animation: false,
    backgroundColor: '#ffffff',
    title: {
      text: 'Periodo:  1/10/2013  \u2013  31/10/2013',
      left: 996, top: 23, textAlign: 'center',
      textStyle: { fontFamily: SANS, fontSize: 42, fontWeight: 'bold', color: '#000' },
    },
    grid, xAxis, yAxis, series, graphic,
  };
}

export default function App() {
  const ref = useRef<HTMLDivElement>(null);
  useEffect(() => {
    if (!ref.current) return;
    const chart = echarts.init(ref.current, undefined, { renderer: 'svg' });
    chart.setOption(buildOption() as any);
    return () => chart.dispose();
  }, []);
  return (
    <div
      ref={ref}
      style={{ position: 'absolute', left: 0, top: 0, width: W, height: H, background: '#fff' }}
    />
  );
}
